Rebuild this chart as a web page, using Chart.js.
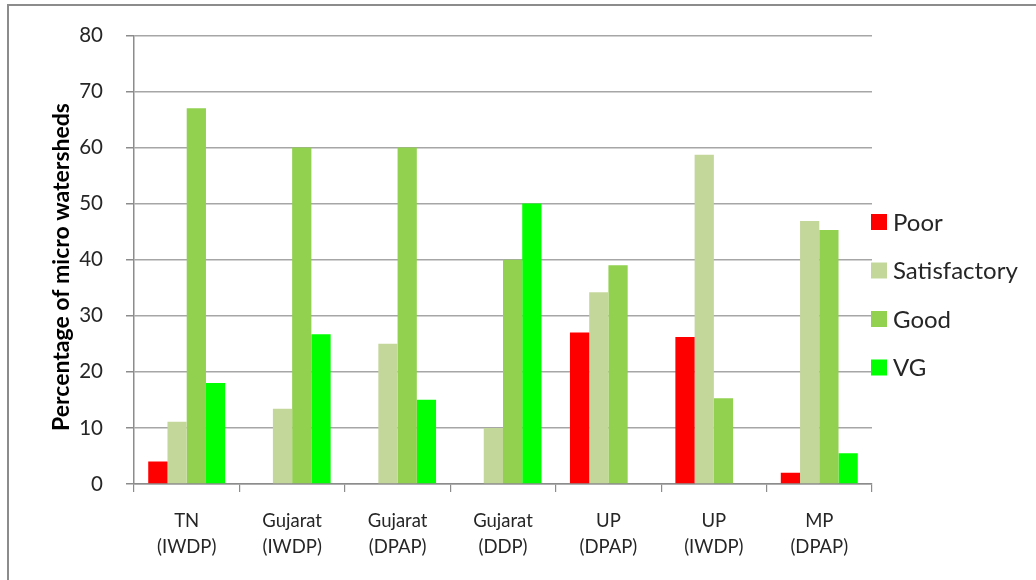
<!DOCTYPE html>
<html>
<head>
<meta charset="utf-8">
<script src="https://cdn.jsdelivr.net/npm/chart.js@4.4.1/dist/chart.umd.min.js"></script>
<style>
  html, body { margin: 0; padding: 0; background: #fff; }
  #wrap { position: relative; width: 1036px; height: 580px; overflow: hidden; }
  #frame { position: absolute; left: 7px; top: 4px; width: 1100px; height: 700px; border-left: 2px solid #8c8c8c; border-top: 2px solid #8c8c8c; box-sizing: border-box; pointer-events: none; }
  canvas { position: absolute; left: 0; top: 0; }
</style>
</head>
<body>
<div id="wrap">
  <canvas id="c" width="1036" height="580"></canvas>
  <div id="frame"></div>
</div>
<script>
const categories = [
  ["TN", "(IWDP)"],
  ["Gujarat", "(IWDP)"],
  ["Gujarat", "(DPAP)"],
  ["Gujarat", "(DDP)"],
  ["UP", "(DPAP)"],
  ["UP", "(IWDP)"],
  ["MP", "(DPAP)"]
];
const seriesNames = ["Poor", "Satisfactory", "Good", "VG"];
const poor =         [4,    0,    0,    0,    27,   26.2, 2];
const satisfactory = [11.1, 13.4, 25,   10,   34.2, 58.7, 46.9];
const good =         [67,   60,   60,   40,   39,   15.3, 45.3];
const vg =           [18,   26.7, 15,   50,   0,    0,    5.5];
const yTicks = [0, 10, 20, 30, 40, 50, 60, 70, 80];
const yTitle = "Percentage of micro watersheds";
const colors = ["#FF0000", "#C4D79B", "#92D050", "#00FF00"];

const FONT = "Lato, 'Open Sans', sans-serif";
const TXT = "#262626";

const decorPlugin = {
  id: 'decor',
  afterDraw(chart) {
    const ctx = chart.ctx;
    ctx.save();
    // legend
    const x0 = 871, y0 = 222, step = 48.5;
    chart.data.datasets.forEach((ds, i) => {
      const cy = y0 + i * step;
      ctx.fillStyle = ds.backgroundColor;
      ctx.fillRect(x0, cy - 8, 16, 16);
      ctx.fillStyle = TXT;
      ctx.font = "24px " + FONT;
      ctx.textBaseline = "middle";
      ctx.textAlign = "left";
      ctx.fillText(ds.label, x0 + 22, cy + 1);
    });
    // y axis title
    ctx.translate(62, 267);
    ctx.rotate(-Math.PI / 2);
    ctx.fillStyle = "#000";
    ctx.font = "bold 23px " + FONT;
    ctx.textAlign = "center";
    ctx.textBaseline = "middle";
    ctx.fillText(yTitle, 0, 0);
    ctx.restore();
  }
};

new Chart(document.getElementById('c'), {
  type: 'bar',
  data: {
    labels: categories,
    datasets: [
      { label: seriesNames[0], data: poor, backgroundColor: colors[0] },
      { label: seriesNames[1], data: satisfactory, backgroundColor: colors[1] },
      { label: seriesNames[2], data: good, backgroundColor: colors[2] },
      { label: seriesNames[3], data: vg, backgroundColor: colors[3] }
    ]
  },
  options: {
    responsive: false,
    animation: false,
    datasets: { bar: { barPercentage: 1.0, categoryPercentage: 0.73, borderWidth: 0 } },
    layout: { padding: { left: 0, top: 30, right: 164, bottom: 0 } },
    plugins: { legend: { display: false }, tooltip: { enabled: false } },
    scales: {
      x: {
        grid: { offset: true, drawOnChartArea: false, drawTicks: true, tickLength: 8, color: '#8c8c8c', lineWidth: 1.2 },
        border: { display: true, color: '#8c8c8c', width: 1.5 },
        ticks: { color: TXT, font: { family: FONT, size: 18.5, lineHeight: 1.4 }, padding: 16, maxRotation: 0, autoSkip: false },
        afterFit(scale) { scale.height = 96; }
      },
      y: {
        min: 0, max: 80,
        afterBuildTicks(scale) { scale.ticks = yTicks.map(v => ({ value: v })); },
        grid: { color: '#a6a6a6', lineWidth: 1.5, tickLength: 8, tickColor: '#8c8c8c', drawTicks: true },
        border: { display: true, color: '#8c8c8c', width: 1.5 },
        ticks: { color: TXT, font: { family: FONT, size: 20.5 }, padding: 23 },
        afterFit(scale) { scale.width = 134; }
      }
    }
  },
  plugins: [decorPlugin]
});
</script>
</body>
</html>
